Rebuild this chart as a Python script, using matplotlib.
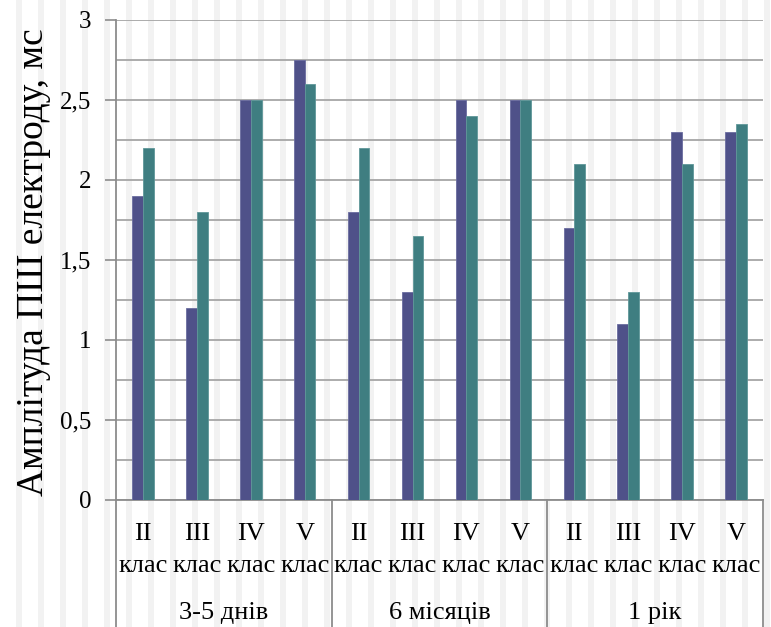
import matplotlib.pyplot as plt
from matplotlib.patches import Rectangle
from matplotlib.ticker import MultipleLocator, FuncFormatter

plt.rcParams['font.family'] = ['Liberation Serif', 'DejaVu Serif']

groups = ['3-5 днів', '6 місяців', '1 рік']
classes = ['II', 'III', 'IV', 'V']
series_a = [1.9, 1.2, 2.5, 2.75,
            1.8, 1.3, 2.5, 2.5,
            1.7, 1.1, 2.3, 2.3]
series_b = [2.2, 1.8, 2.5, 2.6,
            2.2, 1.65, 2.4, 2.5,
            2.1, 1.3, 2.1, 2.35]

W, H = 771, 627
fig = plt.figure(figsize=(W / 100, H / 100), dpi=100)

# faint vertical stripes in the background
for x0 in range(16, W, 22):
    fig.patches.append(Rectangle((x0 / W, 0), 6 / W, 1, transform=fig.transFigure,
                                 facecolor='#f2f2f2', edgecolor='none', zorder=-5))

ax = fig.add_axes([116 / W, 127 / H, 647 / W, 480 / H])
ax.set_facecolor('none')

n = len(series_a)
xs = list(range(n))
bw = 0.2
ax.bar([x - bw / 2 for x in xs], series_a, width=bw, color='#4f5189',
       edgecolor='#6b6da0', linewidth=0.6, zorder=3)
ax.bar([x + bw / 2 for x in xs], series_b, width=bw, color='#3f7e81',
       edgecolor='#5f9799', linewidth=0.6, zorder=3)

ax.set_xlim(-0.5, n - 0.5)
ax.set_ylim(0, 3)
ax.yaxis.set_major_locator(MultipleLocator(0.5))
ax.yaxis.set_minor_locator(MultipleLocator(0.25))
ax.yaxis.set_major_formatter(FuncFormatter(lambda v, p: f'{v:g}'.replace('.', ',')))
ax.grid(axis='y', which='both', color='#a6a6a6', linewidth=1.3, zorder=1)
ax.set_axisbelow(True)
ax.tick_params(axis='y', which='major', length=8, width=1.2, color='#8c8c8c',
               labelsize=18, pad=10)
ax.tick_params(axis='y', which='minor', length=0)
ax.tick_params(axis='x', length=0, labelbottom=False)

for s in ['top', 'right']:
    ax.spines[s].set_visible(False)
for s in ['left', 'bottom']:
    ax.spines[s].set_color('#8c8c8c')
    ax.spines[s].set_linewidth(1.3)

# two-level category table under the axis
bt = ax.get_xaxis_transform()
for i, x in enumerate(xs):
    ax.text(x, -40 / 480, classes[i % 4], transform=bt, ha='center', va='baseline',
            fontsize=19)
    ax.text(x, -72 / 480, 'клас', transform=bt, ha='center', va='baseline',
            fontsize=19)
for g, name in enumerate(groups):
    ax.text(g * 4 + 1.5, -119 / 480, name, transform=bt, ha='center', va='baseline',
            fontsize=19)
for b in [-0.5, 3.5, 7.5, 11.5]:
    ax.plot([b, b], [0, -130 / 480], transform=bt, color='#8c8c8c', linewidth=1.3,
            clip_on=False)

fig.text(34 / W, 1 - 262 / H, 'Амплітуда ПШ електроду, мс', rotation=90,
         ha='center', va='center', fontsize=27)

fig.savefig('out.png', dpi=100)
